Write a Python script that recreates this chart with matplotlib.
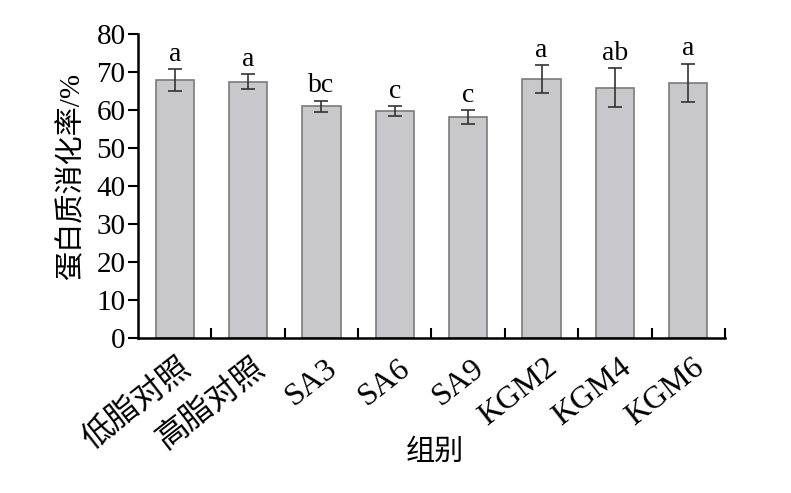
import numpy as np
import matplotlib
matplotlib.use("Agg")
import matplotlib.pyplot as plt

plt.rcParams['font.family'] = ['Liberation Serif', 'Noto Sans CJK SC']

groups = ["低脂对照", "高脂对照", "SA3", "SA6", "SA9", "KGM2", "KGM4", "KGM6"]
means = [67.8, 67.5, 61.0, 59.7, 58.1, 68.2, 65.9, 67.1]
errs = [2.9, 2.0, 1.5, 1.3, 1.9, 3.6, 5.1, 5.1]
letters = ["a", "a", "bc", "c", "c", "a", "ab", "a"]

fig = plt.figure(figsize=(7.91, 4.93), dpi=100)
ax = fig.add_axes([0.1745, 0.3144, 0.742, 0.6166])

x = np.arange(len(groups))
ax.bar(x, means, width=0.52, color="#c8c8ca", edgecolor="#7a7a7a", linewidth=1.2,
       yerr=errs, error_kw=dict(ecolor="#333333", elinewidth=1.2, capsize=5, capthick=1.2))

for xi, m, e, t in zip(x, means, errs, letters):
    ax.text(xi, m + e + 0.6, t, ha="center", va="bottom", fontsize=20)

ax.set_xlim(-0.5, 7.5)
ax.set_ylim(0, 80)
ax.set_yticks(np.arange(0, 81, 10))
ax.tick_params(axis="y", direction="out", length=7, width=1.5, labelsize=21, pad=2)

# category ticks sit between the bars, pointing up
ax.set_xticks(np.arange(0.5, 8, 1))
ax.set_xticklabels([])
ax.tick_params(axis="x", direction="in", length=7, width=1.5)
for xi, g in zip(x, groups):
    ax.text(xi + 0.05, -4.0, g, rotation=38, ha="right", va="top", fontsize=23,
            rotation_mode="anchor", transform=ax.transData)

for s in ["top", "right"]:
    ax.spines[s].set_visible(False)
for s in ["left", "bottom"]:
    ax.spines[s].set_linewidth(1.8)

fig.text(0.091, 0.645, "蛋白质消化率/%", rotation=90, ha="center", va="center", fontsize=21)
fig.text(0.55, 0.081, "组别", ha="center", va="center", fontsize=21)

plt.savefig("out.png", dpi=100)
